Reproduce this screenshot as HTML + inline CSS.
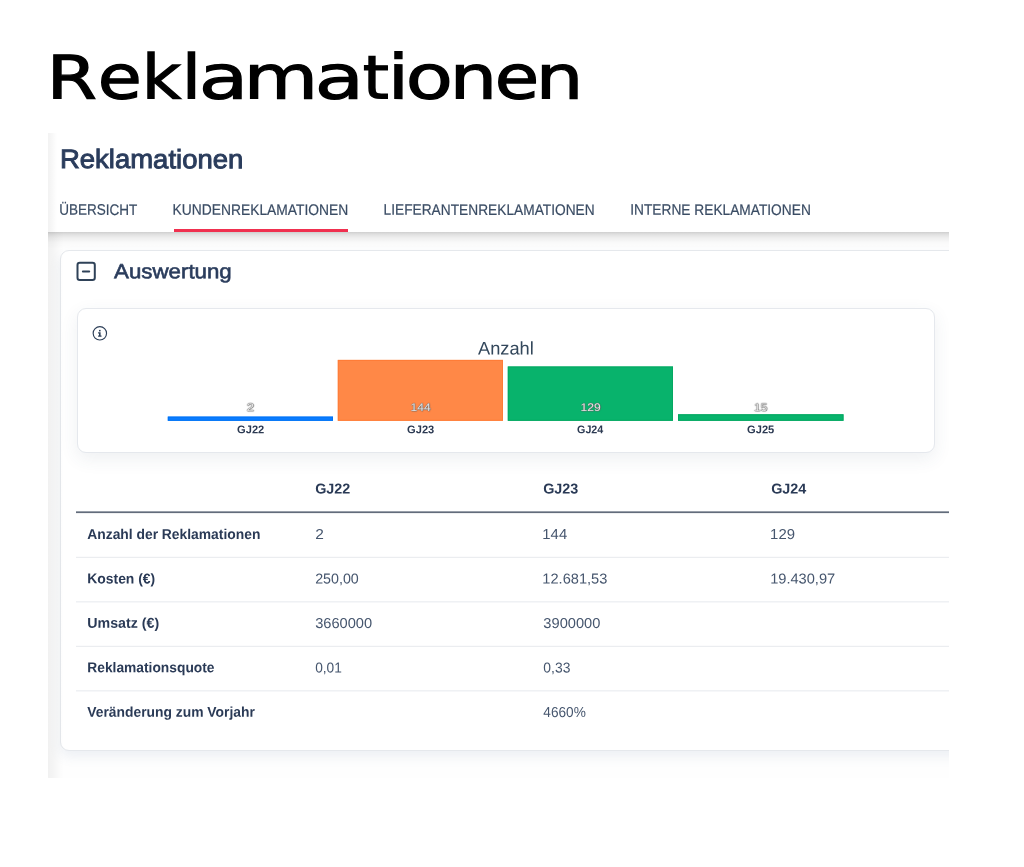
<!DOCTYPE html>
<html lang="de">
<head>
<meta charset="utf-8">
<title>Reklamationen</title>
<style>
html,body{margin:0;padding:0;background:#fff;}
body{width:1024px;height:867px;position:relative;overflow:hidden;font-family:"Liberation Sans",sans-serif;}
.t{position:absolute;white-space:nowrap;transform-origin:0 50%;display:block;}
.g{display:inline-block;width:0;transform-origin:0 51.00px;}
#shot{position:absolute;left:48px;top:133px;width:901px;height:645px;overflow:hidden;background:#fefefe;}
#in{position:absolute;left:-48px;top:-133px;width:1024px;height:867px;}
#in>div,#in>svg{position:absolute;}
#hdr{left:48px;top:133px;width:901px;height:99px;background:#fff;}
#hsh{left:48px;top:232px;width:901px;height:17px;background:linear-gradient(180deg,rgba(0,0,0,.19) 0%,rgba(0,0,0,.125) 12%,rgba(0,0,0,.065) 32%,rgba(0,0,0,.02) 62%,rgba(0,0,0,0) 100%);}
#edgeh{left:48px;top:133px;width:9px;height:99px;background:linear-gradient(90deg,rgba(0,0,0,.052),rgba(0,0,0,.03) 40%,rgba(0,0,0,0));}
#edge{left:48px;top:232px;width:16px;height:546px;background:linear-gradient(90deg,rgba(0,0,0,.05),rgba(0,0,0,.04) 30%,rgba(0,0,0,.015) 65%,rgba(0,0,0,0));}
#uline{left:173.5px;top:229px;width:174px;height:3px;background:#f0304f;}
#card{left:60px;top:249.5px;width:960px;height:501.5px;background:#fff;border:1px solid #e5e8ec;border-radius:9px;box-sizing:border-box;box-shadow:0 6px 12px rgba(90,120,160,.105);}
#chart{left:76.5px;top:307.5px;width:858.5px;height:145px;background:#fff;border:1px solid #e5e8ed;border-radius:9px;box-sizing:border-box;box-shadow:0 6px 18px rgba(60,80,110,.085);}
</style>
</head>
<body>
<div class="t" id="t0" style="left:0;top:47px;font:400 60px/1 'DejaVu Sans','Liberation Sans',sans-serif;color:#000;-webkit-text-stroke:1.2px #000;"><span class="g" style="margin-left:46.59px;transform:translate(-0.20px,0.50px) scale(1.2028,0.9989) rotate(.03deg)">R</span><span class="g" style="margin-left:51.83px;transform:translate(-0.20px,0.50px) scale(1.1937,1.0190) rotate(.03deg)">e</span><span class="g" style="margin-left:43.10px;transform:translate(-0.20px,0.50px) scale(1.1323,1.0228) rotate(.03deg)">k</span><span class="g" style="margin-left:40.70px;transform:translate(-0.20px,0.50px) scale(1.1556,1.0228) rotate(.03deg)">l</span><span class="g" style="margin-left:16.53px;transform:translate(-0.20px,0.50px) scale(1.3483,1.0190) rotate(.03deg)">a</span><span class="g" style="margin-left:45.21px;transform:translate(-0.20px,0.50px) scale(1.2711,1.0102) rotate(.03deg)">m</span><span class="g" style="margin-left:71.52px;transform:translate(-0.20px,0.50px) scale(1.3379,1.0190) rotate(.03deg)">a</span><span class="g" style="margin-left:47.40px;transform:translate(-0.20px,0.50px) scale(1.1126,0.9988) rotate(.03deg)">t</span><span class="g" style="margin-left:25.04px;transform:translate(-0.20px,0.50px) scale(1.2741,1.0293) rotate(.03deg)">i</span><span class="g" style="margin-left:17.94px;transform:translate(-0.20px,0.50px) scale(1.2832,1.0190) rotate(.03deg)">o</span><span class="g" style="margin-left:43.91px;transform:translate(-0.20px,0.50px) scale(1.2452,1.0102) rotate(.03deg)">n</span><span class="g" style="margin-left:44.91px;transform:translate(-0.20px,0.50px) scale(1.2032,1.0190) rotate(.03deg)">e</span><span class="g" style="margin-left:41.66px;transform:translate(-0.20px,0.50px) scale(1.2522,1.0102) rotate(.03deg)">n</span></div>
<div id="shot"><div id="in">
  <div id="card"></div>
  <div id="hsh"></div>
  <div id="hdr"></div>
  <div id="edge"></div>
  <div id="edgeh"></div>
  <div id="uline"></div>
  <div id="chart"></div>

  <!-- collapse icon -->
  <svg style="left:75px;top:261px" width="22" height="22" viewBox="0 0 22 22">
    <rect x="2.5" y="1.8" width="17.3" height="17.3" rx="2.3" fill="none" stroke="#2f4258" stroke-width="2"/>
    <path d="M7.9 10.6H14.2" stroke="#2f4258" stroke-width="2" stroke-linecap="round" fill="none"/>
  </svg>
  <!-- info icon -->
  <svg style="left:91px;top:325px" width="18" height="18" viewBox="0 0 18 18">
    <circle cx="8.85" cy="8.3" r="6.7" fill="none" stroke="#2c3e57" stroke-width="1.15"/>
    <rect x="8.0" y="4.9" width="1.6" height="1.5" fill="#2c3e57"/>
    <path d="M7.1 7.3h2.5v3.3h.9v1.1H7.1v-1.1h.9V8.4h-.9z" fill="#2c3e57"/>
  </svg>

  <!-- bars -->
  <svg style="left:160px;top:350px" width="700" height="80" viewBox="0 0 700 80">
    <rect x="7.8" y="66.6" width="165.2" height="4.2" fill="#0a7cff"/>
    <rect x="8.3" y="67.1" width="164.2" height="3.2" fill="none" stroke="#0073f5" stroke-width="1"/>
    <rect x="177.8" y="9.9" width="165.2" height="60.9" fill="#ff8847"/>
    <rect x="178.3" y="10.4" width="164.2" height="59.9" fill="none" stroke="#ff7c36" stroke-width="1"/>
    <rect x="347.8" y="16.5" width="165.2" height="54.3" fill="#08b36c"/>
    <rect x="348.3" y="17" width="164.2" height="53.3" fill="none" stroke="#04a862" stroke-width="1"/>
    <rect x="518" y="64.3" width="165.5" height="6.5" fill="#08b36c"/>
    <rect x="518.5" y="64.8" width="164.5" height="5.5" fill="none" stroke="#04a862" stroke-width="1"/>
  </svg>

  <!-- table lines -->
  <svg style="left:76px;top:505px" width="900" height="200" viewBox="0 0 900 200">
    <rect x="0" y="6.35" width="900" height="1.75" fill="#626c7b"/>
    <rect x="0" y="51.8" width="900" height="1.1" fill="#e9ecef"/>
    <rect x="0" y="96.3" width="900" height="1.1" fill="#e9ecef"/>
    <rect x="0" y="140.8" width="900" height="1.1" fill="#e9ecef"/>
    <rect x="0" y="185.3" width="900" height="1.1" fill="#e9ecef"/>
  </svg>

<span class="t" id="t1" style="left:59px;top:146px;font:400 26.6px/1 'Liberation Sans',sans-serif;color:#2a3c5c;transform:translate(0.97px,0.08px) scaleX(1.0333) rotate(.03deg);-webkit-text-stroke:0.95px #2a3c5c;">Reklamationen</span>
<span class="t" id="t2" style="left:59px;top:201px;font:400 15.3px/1 'Liberation Sans',sans-serif;color:#3a4c64;transform:translate(0.15px,0.85px) scaleX(0.8849) rotate(.03deg);-webkit-text-stroke:0.2px #3a4c64;">ÜBERSICHT</span>
<span class="t" id="t3" style="left:172px;top:201px;font:400 15.3px/1 'Liberation Sans',sans-serif;color:#3a4c64;transform:translate(0.54px,0.85px) scaleX(0.9044) rotate(.03deg);-webkit-text-stroke:0.2px #3a4c64;">KUNDENREKLAMATIONEN</span>
<span class="t" id="t4" style="left:383px;top:201px;font:400 15.3px/1 'Liberation Sans',sans-serif;color:#3a4c64;transform:translate(0.54px,0.85px) scaleX(0.8979) rotate(.03deg);-webkit-text-stroke:0.2px #3a4c64;">LIEFERANTENREKLAMATIONEN</span>
<span class="t" id="t5" style="left:630px;top:201px;font:400 15.3px/1 'Liberation Sans',sans-serif;color:#3a4c64;transform:translate(0.24px,0.85px) scaleX(0.8976) rotate(.03deg);-webkit-text-stroke:0.2px #3a4c64;">INTERNE REKLAMATIONEN</span>
<span class="t" id="t6" style="left:114px;top:261px;font:400 20.5px/1 'Liberation Sans',sans-serif;color:#2a3c5c;transform:translate(0.08px,0.25px) scaleX(1.0871) rotate(.03deg);-webkit-text-stroke:0.6px #2a3c5c;">Auswertung</span>
<span class="t" id="t7" style="left:477px;top:339px;font:400 18.3px/1 'Liberation Sans',sans-serif;color:#33475b;transform:translate(0.95px,0.51px) scaleX(0.9994) rotate(.03deg);">Anzahl</span>
<span class="t" id="t8" style="left:237px;top:424px;font:700 11.2px/1 'Liberation Sans',sans-serif;color:#2c3a52;transform:translate(0.05px,0.32px) scaleX(0.9946) rotate(.03deg);">GJ22</span>
<span class="t" id="t9" style="left:407px;top:424px;font:700 11.2px/1 'Liberation Sans',sans-serif;color:#2c3a52;transform:translate(0.05px,0.32px) scaleX(0.9946) rotate(.03deg);">GJ23</span>
<span class="t" id="t10" style="left:577px;top:424px;font:700 11.2px/1 'Liberation Sans',sans-serif;color:#2c3a52;transform:translate(0.05px,0.32px) scaleX(0.9593) rotate(.03deg);">GJ24</span>
<span class="t" id="t11" style="left:747px;top:424px;font:700 11.2px/1 'Liberation Sans',sans-serif;color:#2c3a52;transform:translate(0.05px,0.32px) scaleX(0.9946) rotate(.03deg);">GJ25</span>
<span class="t" id="t12" style="left:246px;top:401px;font:400 11px/1 'Liberation Sans',sans-serif;color:#e6e6e6;transform:translate(0.50px,0.89px) scaleX(1.2500) rotate(.03deg);text-shadow:0 0 1px #555,0 0 1px #777,0.4px 0.4px 1px #666;">2</span>
<span class="t" id="t13" style="left:410px;top:401px;font:400 11px/1 'Liberation Sans',sans-serif;color:#e6e6e6;transform:translate(0.55px,0.89px) scaleX(1.0968) rotate(.03deg);text-shadow:0 0 1px #555,0 0 1px #777,0.4px 0.4px 1px #666;">144</span>
<span class="t" id="t14" style="left:580px;top:401px;font:400 11px/1 'Liberation Sans',sans-serif;color:#e6e6e6;transform:translate(0.55px,0.89px) scaleX(1.0968) rotate(.03deg);text-shadow:0 0 1px #555,0 0 1px #777,0.4px 0.4px 1px #666;">129</span>
<span class="t" id="t15" style="left:753px;top:401px;font:400 11px/1 'Liberation Sans',sans-serif;color:#e6e6e6;transform:translate(0.80px,0.89px) scaleX(1.1141) rotate(.03deg);text-shadow:0 0 1px #555,0 0 1px #777,0.4px 0.4px 1px #666;">15</span>
<span class="t" id="t16" style="left:315px;top:481px;font:700 14.3px/1 'Liberation Sans',sans-serif;color:#2a3a56;transform:translate(0.15px,0.50px) scaleX(1.0051) rotate(.03deg);">GJ22</span>
<span class="t" id="t17" style="left:543px;top:481px;font:700 14.3px/1 'Liberation Sans',sans-serif;color:#2a3a56;transform:translate(0.15px,0.50px) scaleX(1.0051) rotate(.03deg);">GJ23</span>
<span class="t" id="t18" style="left:771px;top:481px;font:700 14.3px/1 'Liberation Sans',sans-serif;color:#2a3a56;transform:translate(0.15px,0.50px) scaleX(1.0051) rotate(.03deg);">GJ24</span>
<span class="t" id="t19" style="left:87px;top:526px;font:700 14.3px/1 'Liberation Sans',sans-serif;color:#2a3a56;transform:translate(0.25px,0.90px) scaleX(0.9684) rotate(.03deg);">Anzahl der Reklamationen</span>
<span class="t" id="t20" style="left:315px;top:527px;font:400 14.4px/1 'Liberation Sans',sans-serif;color:#46566e;transform:translate(0.15px,0.01px) scaleX(1.0750) rotate(.03deg);">2</span>
<span class="t" id="t21" style="left:542px;top:527px;font:400 14.4px/1 'Liberation Sans',sans-serif;color:#46566e;transform:translate(0.32px,0.01px) scaleX(1.0345) rotate(.03deg);">144</span>
<span class="t" id="t22" style="left:770px;top:527px;font:400 14.4px/1 'Liberation Sans',sans-serif;color:#46566e;transform:translate(0.12px,0.01px) scaleX(1.0345) rotate(.03deg);">129</span>
<span class="t" id="t23" style="left:87px;top:571px;font:700 14.3px/1 'Liberation Sans',sans-serif;color:#2a3a56;transform:translate(0.25px,0.37px) scaleX(0.9724) rotate(.03deg);">Kosten (€)</span>
<span class="t" id="t24" style="left:315px;top:571px;font:400 14.4px/1 'Liberation Sans',sans-serif;color:#46566e;transform:translate(0.15px,0.48px) scaleX(0.9906) rotate(.03deg);">250,00</span>
<span class="t" id="t25" style="left:542px;top:571px;font:400 14.4px/1 'Liberation Sans',sans-serif;color:#46566e;transform:translate(0.33px,0.48px) scaleX(1.0156) rotate(.03deg);">12.681,53</span>
<span class="t" id="t26" style="left:770px;top:571px;font:400 14.4px/1 'Liberation Sans',sans-serif;color:#46566e;transform:translate(0.13px,0.48px) scaleX(1.0156) rotate(.03deg);">19.430,97</span>
<span class="t" id="t27" style="left:87px;top:615px;font:700 14.3px/1 'Liberation Sans',sans-serif;color:#2a3a56;transform:translate(0.25px,0.84px) scaleX(0.9940) rotate(.03deg);">Umsatz (€)</span>
<span class="t" id="t28" style="left:315px;top:615px;font:400 14.4px/1 'Liberation Sans',sans-serif;color:#46566e;transform:translate(0.15px,0.95px) scaleX(1.0175) rotate(.03deg);">3660000</span>
<span class="t" id="t29" style="left:543px;top:615px;font:400 14.4px/1 'Liberation Sans',sans-serif;color:#46566e;transform:translate(0.35px,0.95px) scaleX(1.0175) rotate(.03deg);">3900000</span>
<span class="t" id="t30" style="left:87px;top:660px;font:700 14.3px/1 'Liberation Sans',sans-serif;color:#2a3a56;transform:translate(0.25px,0.31px) scaleX(0.9649) rotate(.03deg);">Reklamationsquote</span>
<span class="t" id="t31" style="left:315px;top:660px;font:400 14.4px/1 'Liberation Sans',sans-serif;color:#46566e;transform:translate(0.15px,0.42px) scaleX(0.9534) rotate(.03deg);">0,01</span>
<span class="t" id="t32" style="left:543px;top:660px;font:400 14.4px/1 'Liberation Sans',sans-serif;color:#46566e;transform:translate(0.35px,0.42px) scaleX(0.9641) rotate(.03deg);">0,33</span>
<span class="t" id="t33" style="left:87px;top:704px;font:700 14.3px/1 'Liberation Sans',sans-serif;color:#2a3a56;transform:translate(0.25px,0.78px) scaleX(0.9691) rotate(.03deg);">Veränderung zum Vorjahr</span>
<span class="t" id="t34" style="left:543px;top:704px;font:400 14.4px/1 'Liberation Sans',sans-serif;color:#46566e;transform:translate(0.35px,0.89px) scaleX(0.9486) rotate(.03deg);">4660%</span>
</div></div>
</body>
</html>
